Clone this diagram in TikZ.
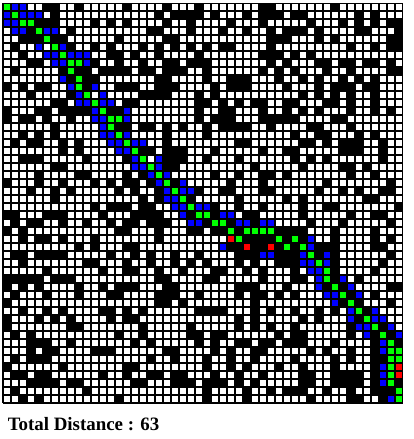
\documentclass[tikz,border=0pt]{standalone}
\usepackage{fontspec}
\setmainfont{Liberation Serif}
\usetikzlibrary{positioning}
\definecolor{pathgreen}{RGB}{0,255,0}
\definecolor{openblue}{RGB}{0,0,255}
\definecolor{markred}{RGB}{255,0,0}

\begin{document}
\begin{tikzpicture}[
    x=0.25cm, y=-0.25cm,
    wallcell/.style={fill=black},
    pathcell/.style={fill=pathgreen},
    opencell/.style={fill=openblue},
    markcell/.style={fill=markred},
    gridline/.style={draw=black, line width=0.9pt, step=0.25cm},
    totallbl/.style={anchor=base west, font=\fontsize{16.8}{20}\selectfont\bfseries}
]

\useasboundingbox (-0.375,-0.375) rectangle (51.375,54.5);
\fill[white] (0,0) rectangle (50,50);

% --- walls ---
\foreach \r/\cs in {
    0/{5,6,9,15,20,24,32,33,41},
    1/{6,19,21,22,23,24,26,30,32,33,34,36,37,44,46},
    2/{4,5,6,11,13,15,20,23,28,32,38,42,44,46,48,49},
    3/{3,8,18,19,23,27,30,33,35,36,37,39,44,45,49},
    4/{2,3,4,6,7,14,20,21,33,34,35,39,41,48,49},
    5/{1,8,11,13,17,19,21,23,25,27,28,33,43,46,48,49},
    6/{2,13,14,16,19,24,32,33,34,36,38},
    7/{3,4,11,14,17,20,21,23,24,25,33,35,39,40,42,43,45,46,48},
    8/{1,7,9,10,12,13,14,15,17,18,20,21,22,25,32,34,36,40,43,48,49},
    9/{8,10,11,19,20,25,28,29,30,34,37,39,42,44,46},
    10/{0,2,4,5,10,14,15,16,19,20,21,26,28,29,30,35,39,41,42,43,45,46},
    11/{3,8,17,18,19,20,24,26,37,39,41,43,46},
    12/{6,7,15,16,24,25,27,29,31,32,35,36,40,41,43,46},
    13/{0,4,5,7,8,9,10,13,14,24,27,28,32,35,37,39,43,46,48},
    14/{0,2,3,5,8,24,26,27,28,32,33,34,35,36,41,42},
    15/{6,14,15,17,18,20,22,25,27,28,29,30,33,38,39,43},
    16/{2,4,6,20,25,36,39,40,44,46},
    17/{1,3,4,7,9,20,29,30,37,38,40,42,43,44,47},
    18/{7,9,17,18,20,21,22,26,32,35,36,42,43,44,47},
    19/{2,3,4,10,15,20,21,22,25,29,36,38,40,47},
    20/{6,7,20,21,31,37,42,43,45},
    21/{4,9,10,15,17,26,29,32,33,35,43,46},
    22/{0,4,7,11,13,15,16,18,21,28,32,40,48},
    23/{3,6,8,14,16,19,24,27,28,32,33,39,42,44,47,48},
    24/{6,17,19,23,29,35,37,45,46},
    25/{11,13,14,15,17,18,26,29,32,37,40,41,49},
    26/{0,1,5,6,7,12,16,17,18,19,23,26,30,31,37,43,46,47},
    27/{1,3,4,7,10,13,15,16,18,19,20,25,28,31,38,42,48},
    28/{0,2,14,15,19,23,24,26,27,29,34,35,36,37,41,46},
    29/{2,4,5,7,11,19,30,31,32,33,35,37,41,46,48},
    30/{9,11,15,16,28,29,31,32,34,36,39,40,41,46,47},
    31/{1,2,4,5,6,7,13,16,18,21,24,29,30,31,34,35,36,39,41,48},
    32/{2,10,11,15,18,21,23,25,29,31,34,35,36,41,47},
    33/{5,12,15,16,19,22,26,27,30,32,36,41,46},
    34/{0,1,2,3,4,6,7,8,19,20,25,26,32,36,37,41,44},
    35/{0,2,4,9,12,14,15,16,20,21,29,30,31,35,40,42,48,49},
    36/{1,5,9,13,14,19,20,21,24,29,31,32,34,36,43,46},
    37/{0,19,20,22,31,42,44,48},
    38/{2,5,7,12,13,15,17,24,25,26,27,31,33,36,39,41,45},
    39/{0,4,6,8,13,15,16,29,31,37,39,44},
    40/{0,8,9,17,23,29,31,33,36,43,47},
    41/{1,3,14,17,23,24,26,27,34,36,37,43,46,48},
    42/{3,4,5,8,16,18,24,26,29,30,32,33,35,36,37,41,46,49},
    43/{3,5,6,11,12,13,20,21,26,28,31,32,38,40,43,46},
    44/{1,3,4,5,18,21,25,28,31,36,41,43,46,47},
    45/{0,7,15,16,25,28,30,34,37,41,46},
    46/{1,2,4,5,12,15,18,19,21,22,26,29,32,37,38,41,42,43,44,46},
    47/{3,4,5,6,8,9,16,17,21,22,23,25,26,27,29,31,37,38,41,42,43,44,46,49},
    48/{1,10,25,30,33,35,36,37,40,43,46,47,48},
    49/{2,4,14,25,30,38,43,44,47}}
  \foreach \c in \cs
    \fill[wallcell] (\c,\r) rectangle ++(1,1);

% --- explored cells ---
\foreach \r/\cs in {
    0/{1,2}, 1/{0,2,3,4}, 2/{0,1}, 3/{1,2,5,6}, 5/{4,7}, 6/{5,6,8,9,10},
    7/{6,7,10}, 9/{7}, 10/{8,11}, 11/{9,12}, 12/{9,10,12,13}, 13/{11,15},
    14/{11,12,15}, 15/{12}, 16/{12,13,15}, 17/{13,14,16,17}, 18/{14,15},
    19/{16,19}, 20/{16,17,19}, 21/{18,20}, 22/{19,22}, 23/{20,22,23},
    24/{20,21}, 25/{21,22,24,25}, 26/{22,27,28}, 27/{23,24,29,30,32,33},
    29/{38}, 30/{27,38}, 31/{32,33,37,40}, 32/{37,38,40}, 33/{38,39},
    34/{39,42}, 35/{39,43}, 36/{40,41,44}, 37/{41}, 38/{43,46},
    39/{43,46,47}, 40/{44,45,48}, 41/{45,49}, 42/{47}, 43/{47},
    45/{47}, 46/{47}, 47/{47}, 49/{48}}
  \foreach \c in \cs
    \fill[opencell] (\c,\r) rectangle ++(1,1);

% --- shortest path ---
\foreach \r/\cs in {
    0/{0}, 1/{1}, 2/{2,3}, 3/{4}, 4/{5}, 5/{6}, 6/{7}, 7/{8,9}, 8/{8},
    9/{9}, 10/{9}, 11/{10}, 12/{11}, 13/{12}, 14/{13,14}, 15/{13}, 16/{14},
    17/{15}, 18/{16}, 19/{17}, 20/{18}, 21/{19}, 22/{20}, 23/{21}, 24/{22},
    25/{23}, 26/{24,25}, 27/{26,27}, 28/{28,30,31,32,33}, 29/{29,34,36},
    30/{35,37}, 31/{38}, 32/{39}, 33/{40}, 34/{40}, 35/{41}, 36/{42},
    37/{43}, 38/{44}, 39/{45}, 40/{46}, 41/{47}, 42/{48}, 43/{48,49},
    44/{48,49}, 45/{48}, 46/{48}, 47/{48}, 48/{49}, 49/{49}}
  \foreach \c in \cs
    \fill[pathcell] (\c,\r) rectangle ++(1,1);

% --- marked cells ---
\foreach \r/\c in {29/28, 30/30, 30/33, 45/49, 46/49}
  \fill[markcell] (\c,\r) rectangle ++(1,1);

% --- grid ---
\draw[gridline] (0,0) grid (50,50);

% --- label ---
\node[totallbl] (total) at (0.1,53.375) {Total Distance : 63};

\end{tikzpicture}
\end{document}
